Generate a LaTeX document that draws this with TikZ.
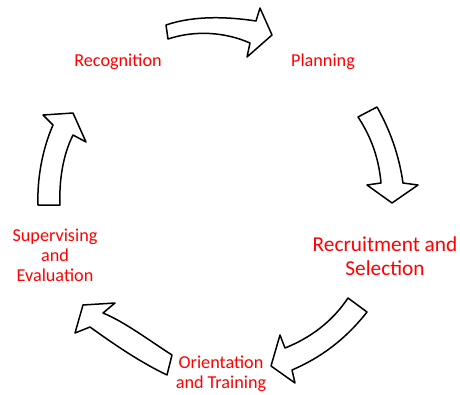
\documentclass[tikz,border=0pt]{standalone}
\usepackage{fontspec}
\setmainfont{Carlito}
\usepackage{tikz}
\tikzstyle{stage}=[text=red,align=center,inner sep=0,font=\fontsize{18.2}{20}\selectfont]
\tikzset{bigstage/.style={stage,font=\fontsize{21.3}{24}\selectfont}}
\tikzset{
  blockarrow/.style={
    draw=black,
    fill=white,
    line width=1.5pt,
    line join=round
  }
}

\begin{document}
\begin{tikzpicture}[x=1pt,y=-1pt]
\useasboundingbox (0,0) rectangle (460,394);

\node[stage] (recog) at (118,62) {Recognition};
\node[stage] (plan) at (323,62) {Planning};
\node[bigstage] (recruit) at (385,256) {Recruitment and\\Selection};
\node[stage] (orient) at (221,374) {Orientation\\and Training};
\node[stage] (superv) at (55,255) {Supervising\\and\\Evaluation};

% recognition -> planning
\draw[blockarrow] (166,25) .. controls (195,15) and (230,17) .. (256,21) -- (260,8) -- (272,35)
  -- (247,57) -- (250,43) .. controls (225,32) and (195,30) .. (168,39) -- cycle;
% planning -> recruitment
\draw[blockarrow] (377,107) .. controls (390,130) and (399,155) .. (403,183) -- (418,185) -- (392,203)
  -- (367,185) -- (381,183) .. controls (379,160) and (372,138) .. (358,117) -- cycle;
% recruitment -> orientation
\draw[blockarrow] (367,312) .. controls (345,340) and (320,358) .. (292,370) -- (295,383) -- (271,366)
  -- (280,335) -- (285,348) .. controls (310,338) and (332,322) .. (348,298) -- cycle;
% orientation -> supervising
\draw[blockarrow] (172,355) .. controls (150,341) and (125,322) .. (103,313) -- (115,303) -- (83,305)
  -- (75,333) -- (90,327) .. controls (115,345) and (140,362) .. (167,375) -- cycle;
% supervising -> recognition
\draw[blockarrow] (38,205) .. controls (37,180) and (42,150) .. (53,125) -- (43,115) -- (73,113)
  -- (86,142) -- (73,135) .. controls (63,155) and (59,180) .. (60,205) -- cycle;

\end{tikzpicture}
\end{document}
